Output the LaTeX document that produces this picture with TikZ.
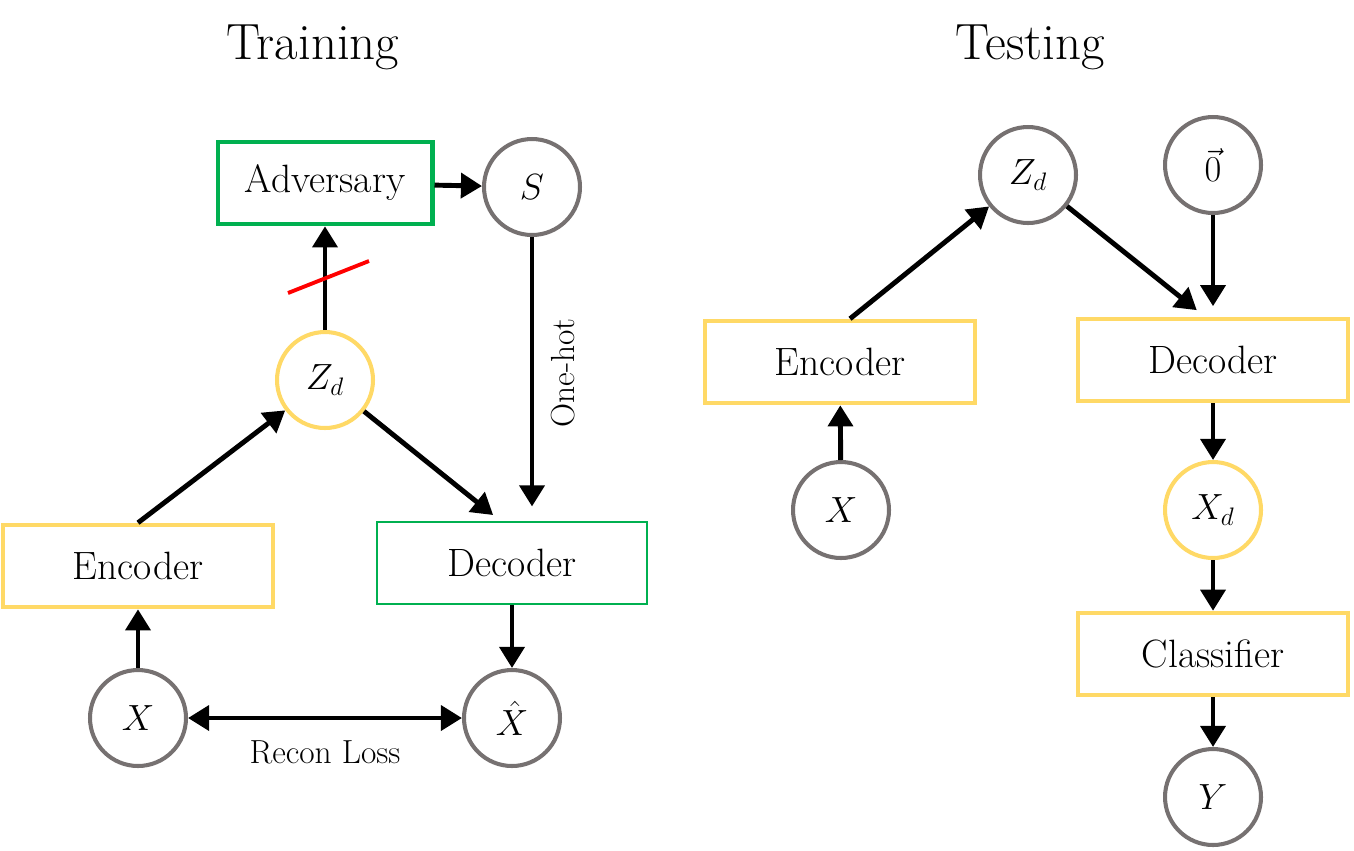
\documentclass[tikz,border=0pt]{standalone}
\usetikzlibrary{arrows.meta}
\definecolor{advgreen}{HTML}{00B050}
\definecolor{netyellow}{HTML}{FFD966}
\definecolor{vargray}{HTML}{767171}
\begin{document}
\begin{tikzpicture}[x=0.02cm, y=-0.02cm,
  >={Triangle[length=12pt,width=14pt]},
  every node/.style={font=\fontsize{22.5}{26}\selectfont},
  small/.style={font=\fontsize{19}{22}\selectfont},
  title/.style={font=\fontsize{29}{34}\selectfont},
  net/.style={rectangle, draw=netyellow, line width=2.3pt, fill=white, minimum width=5.4cm, minimum height=1.65cm},
  adv/.style={rectangle, draw=advgreen, line width=2.3pt, fill=white, minimum width=5.4cm, minimum height=1.65cm},
  var/.style={circle, draw=vargray, line width=2.3pt, fill=white, minimum size=1.92cm},
  hid/.style={circle, draw=netyellow, line width=2.3pt, fill=white, minimum size=1.92cm},
  flow/.style={->, line width=2.8pt}]
\useasboundingbox (0,0) rectangle (1354,850);
% training
\node[title] (trainT) at (313,47) {Training};
\node[adv, minimum width=4.3cm] (adv) at (325,183) {Adversary};
\node[var] (s) at (532,187) {$S$};
\node[hid] (zdL) at (325,380) {$Z_d$};
\node[net] (encL) at (138,566) {Encoder};
\node[adv, line width=1.4pt] (decL) at (512,563) {Decoder};
\node[var] (xL) at (138,718) {$X$};
\node[var] (xhat) at (512,718) {$\hat{X}$};
\draw[flow] (adv) -- (s);
\draw[flow] (zdL) -- (adv);
\draw[flow, shorten >=8pt] (s) -- node[small, pos=0.48, right=6pt, rotate=90, anchor=north] {One-hot} (s |- decL.north);
\draw[flow] (encL.north) -- (zdL);
\draw[flow, shorten >=5pt] (zdL) -- ([xshift=-0.24cm]decL.north);
\draw[flow] (decL) -- (xhat);
\draw[flow] (xL) -- (encL);
\draw[<->, line width=2.8pt] (xL) -- node[small, below=8pt] {Recon Loss} (xhat);
\draw[red, line width=2.2pt] (288,293) -- (369,261);
% testing
\node[title] (testT) at (1030,47) {Testing};
\node[var] (zdR) at (1028,175) {$Z_d$};
\node[var] (zero) at (1213,165) {$\vec{0}$};
\node[net] (encR) at (840,362) {Encoder};
\node[net] (decR) at (1213,360) {Decoder};
\node[var] (xR) at (841,510) {$X$};
\node[hid] (xd) at (1213,510) {$X_d$};
\node[net] (cls) at (1213,654) {Classifier};
\node[var] (y) at (1213,797) {$Y$};
\draw[flow] ([xshift=0.2cm]encR.north) -- (zdR);
\draw[flow, shorten >=6pt] (zdR) -- ([xshift=-0.16cm]decR.north);
\draw[flow, shorten >=6pt] (zero) -- (decR);
\draw[flow] (xR) -- (encR);
\draw[flow] (decR) -- (xd);
\draw[flow] (xd) -- (cls);
\draw[flow] (cls) -- (y);
\end{tikzpicture}
\end{document}
